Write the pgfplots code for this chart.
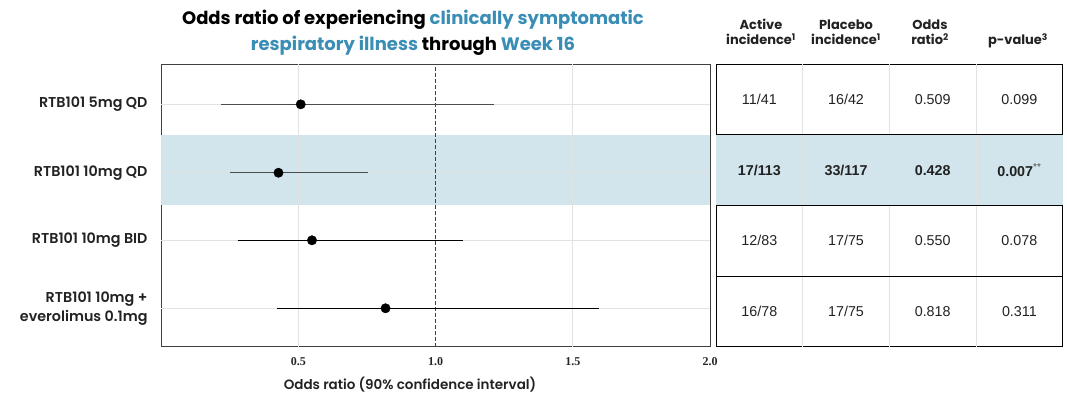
\documentclass[border=0pt]{standalone}
\usepackage{pgfplots}
\pgfplotsset{compat=1.18}
\usepackage{pgfplotstable}
\usepackage{fontspec}
\setmainfont{Liberation Sans}
\newfontfamily\gothic{Poppins}
\newfontfamily\gothicmed{Poppins}[UprightFont=* SemiBold]
\newfontfamily\sernum{Liberation Serif}
\definecolor{titleblue}{HTML}{3A8DB5}
\definecolor{band}{HTML}{D2E5EC}
\definecolor{gridc}{HTML}{E2E2E2}
\definecolor{txt}{HTML}{222222}

\pgfplotstableread{
y est
3.433 0.509
2.464 0.428
1.507 0.550
0.544 0.818
}\forestpts

\begin{document}
\begin{tikzpicture}
\useasboundingbox (0,0) rectangle (1067pt,398pt);
% title
\node[align=center, font=\gothic\bfseries\fontsize{18}{26}\selectfont, text=black] at (413pt,365pt)
 {Odds ratio of experiencing \textcolor{titleblue}{clinically symptomatic}\\
  \textcolor{titleblue}{respiratory illness} through \textcolor{titleblue}{Week 16}};

\begin{axis}[
  at={(161pt,51.3pt)}, anchor=south west,
  width=549pt, height=282.4pt, scale only axis,
  xmin=0, xmax=2, ymin=0, ymax=4,
  xtick={0.5,1,1.5,2}, xticklabels={0.5,1.0,1.5,2.0},
  ytick={0.544,1.507,2.464,3.433},
  yticklabels={{RTB101 10mg +\\everolimus 0.1mg},{RTB101 10mg BID},{RTB101 10mg QD},{RTB101 5mg QD}},
  yticklabel style={align=right, font=\gothicmed\fontsize{14.3}{19}\selectfont, text=txt, xshift=-10pt},
  xticklabel style={font=\sernum\bfseries\fontsize{12}{14}\selectfont, text=black!85, yshift=-7pt},
  major tick length=0pt,
  axis line style={black!75, line width=0.9pt},
  clip=false,
]
\fill[band] (axis cs:0,2) rectangle (axis cs:2,3);
\draw[gridc, line width=0.8pt] (axis cs:0.5,0) -- (axis cs:0.5,4);
\draw[gridc, line width=0.8pt] (axis cs:1.5,0) -- (axis cs:1.5,4);
\foreach \yy in {0.544,1.507,2.464,3.433} {
  \edef\tmp{\noexpand\draw[gridc, line width=0.8pt] (axis cs:0,\yy) -- (axis cs:2,\yy);}\tmp
}
\draw[black!75, line width=1.4pt, dash pattern=on 4pt off 2pt] (axis cs:1,0) -- (axis cs:1,4);
\addplot[black!70, line width=1pt] coordinates {(0.219,3.433) (1.213,3.433)};
\addplot[black!70, line width=1pt] coordinates {(0.250,2.464) (0.755,2.464)};
\addplot[black, line width=1pt] coordinates {(0.279,1.507) (1.101,1.507)};
\addplot[black, line width=1pt] coordinates {(0.424,0.544) (1.597,0.544)};
\addplot[only marks, mark=*, mark size=4.7pt, black] table[x=est, y=y] {\forestpts};
\end{axis}
\node[font=\gothicmed\fontsize{13.5}{16}\selectfont, text=txt] at (410pt,13pt) {Odds ratio (90\% confidence interval)};

% table
\begin{axis}[
  at={(716pt,51.3pt)}, anchor=south west,
  width=346.7pt, height=282.4pt, scale only axis,
  xmin=0, xmax=4, ymin=0, ymax=4,
  ticks=none,
  axis line style={black, line width=0.9pt},
  clip=false,
]
\fill[band] (axis cs:0,2) rectangle (axis cs:4,3);
\foreach \xx in {1,2,3} {
  \edef\tmp{\noexpand\draw[gridc, line width=0.8pt] (axis cs:\xx,0) -- (axis cs:\xx,4);}\tmp
}
\foreach \yy in {1,2,3} {
  \edef\tmp{\noexpand\draw[black, line width=0.9pt] (axis cs:0,\yy) -- (axis cs:4,\yy);}\tmp
}
\begin{scope}[every node/.style={font=\fontsize{14.3}{16}\selectfont, text=txt}]
\node at (axis cs:0.5,3.5) {11/41};
\node at (axis cs:1.5,3.5) {16/42};
\node at (axis cs:2.5,3.5) {0.509};
\node at (axis cs:3.5,3.5) {0.099};
\node at (axis cs:0.5,2.5) {\bfseries 17/113};
\node at (axis cs:1.5,2.5) {\bfseries 33/117};
\node at (axis cs:2.5,2.5) {\bfseries 0.428};
\node at (axis cs:3.5,2.5) {\bfseries 0.007\textsuperscript{\mdseries\textcolor{black!70}{**}}};
\node at (axis cs:0.5,1.5) {12/83};
\node at (axis cs:1.5,1.5) {17/75};
\node at (axis cs:2.5,1.5) {0.550};
\node at (axis cs:3.5,1.5) {0.078};
\node at (axis cs:0.5,0.5) {16/78};
\node at (axis cs:1.5,0.5) {17/75};
\node at (axis cs:2.5,0.5) {0.818};
\node at (axis cs:3.5,0.5) {0.311};
\end{scope}
\end{axis}

% table headers
\begin{scope}[every node/.style={font=\gothic\bfseries\fontsize{13}{15}\selectfont, text=txt, anchor=base}]
\node at (761pt,368pt) {Active};
\node at (761pt,353pt) {incidence\textsuperscript{1}};
\node at (846pt,368pt) {Placebo};
\node at (846pt,353pt) {incidence\textsuperscript{1}};
\node at (930pt,368pt) {Odds};
\node at (930pt,353pt) {ratio\textsuperscript{2}};
\node at (1018pt,353pt) {p-value\textsuperscript{3}};
\end{scope}
\end{tikzpicture}
\end{document}
